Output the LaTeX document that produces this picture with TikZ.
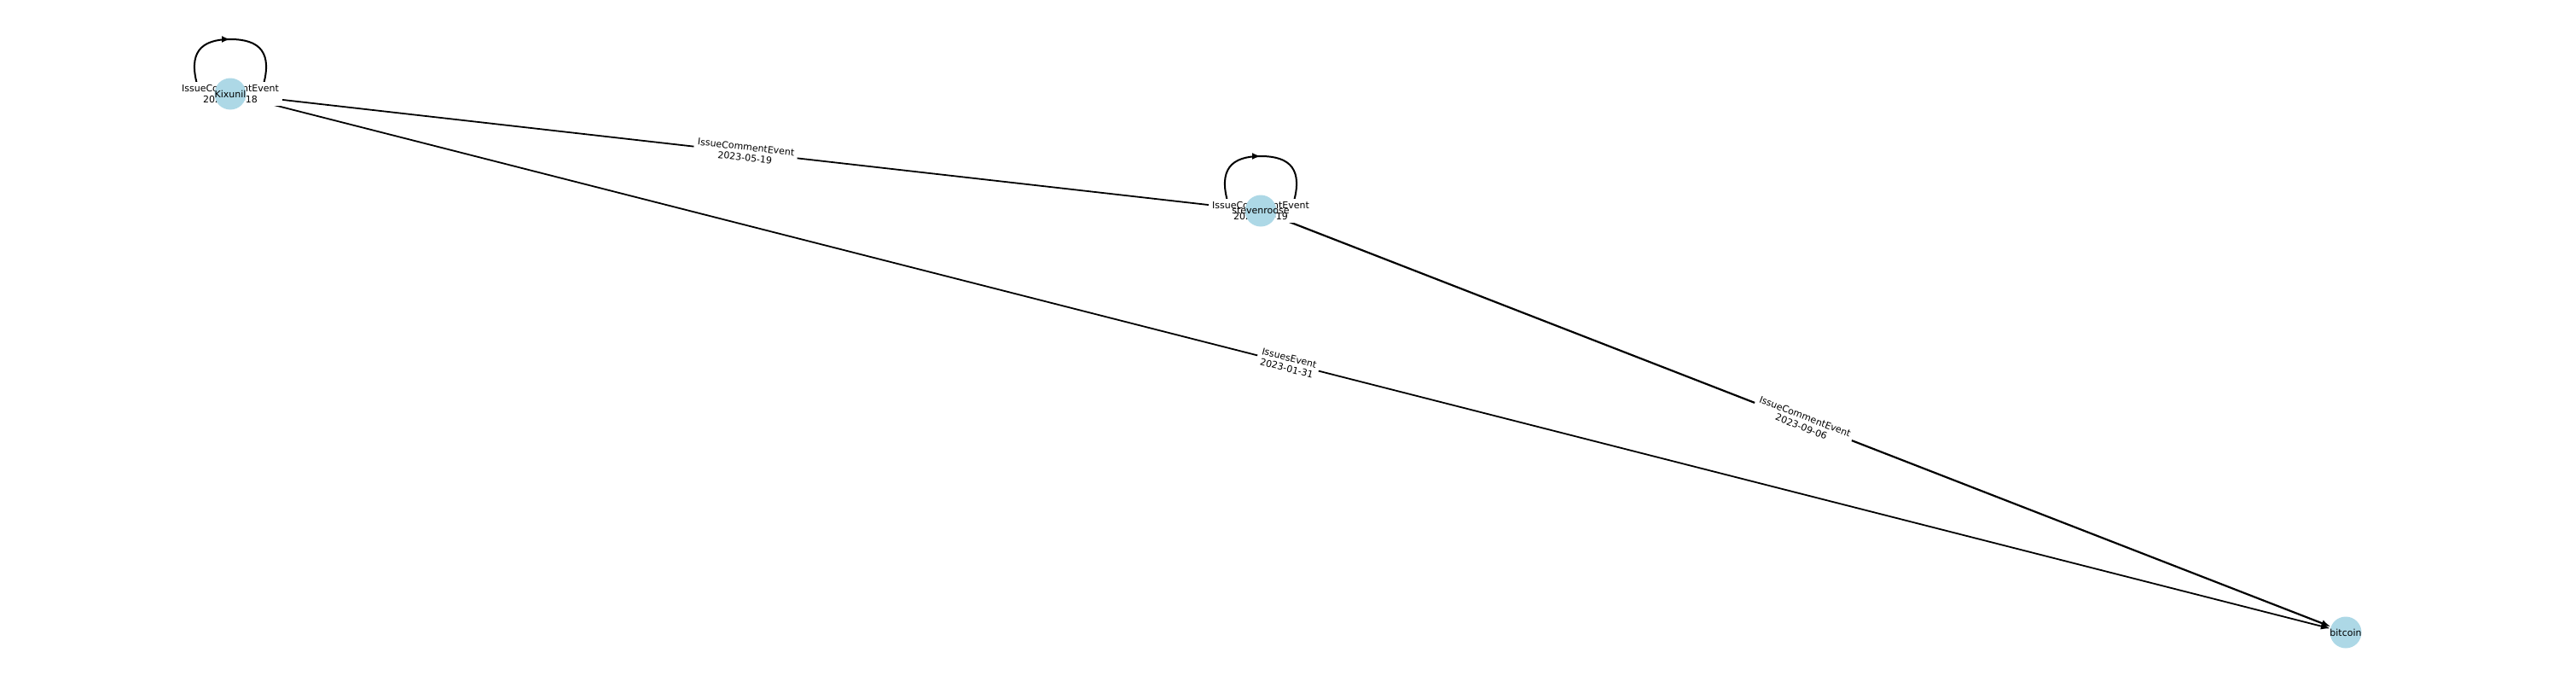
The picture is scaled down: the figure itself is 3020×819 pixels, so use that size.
\documentclass[tikz,border=0pt]{standalone}
\usepackage{fontspec}
\setmainfont{DejaVu Sans}
\usetikzlibrary{arrows.meta,calc,decorations.markings}
\definecolor{nodeblue}{RGB}{173,216,230}
\pgfdeclarelayer{edgelayer}
\pgfdeclarelayer{labellayer}
\pgfsetlayers{edgelayer,labellayer,main}
\begin{document}
\begin{tikzpicture}[x=1pt,y=-1pt,
  every node/.style={font=\fontsize{11}{12.5}\selectfont},
  every label/.style={font=\fontsize{11}{12.5}\selectfont, inner sep=0pt},
  vertex/.style={circle, fill=nodeblue, minimum size=37pt, inner sep=0pt},
  edge/.style={line width=1.8pt, -{Latex[length=11pt,width=8pt]}},
  loopedge/.style={line width=2pt, postaction=decorate,
    decoration={markings, mark=at position 0.5 with {\arrow{Latex[length=10pt,width=8pt]}}}},
  elabel/.style={fill=white, inner sep=4pt, align=center, sloped, midway},
  llabel/.style={fill=white, inner sep=4pt, align=center}
]
\useasboundingbox (0,0) rectangle (3020,819);
\node[vertex, label={center:Kixunil}] (kix) at (270,110) {};
\node[vertex, label={center:stevenroose}] (stv) at (1478,247) {};
\node[vertex, label={center:bitcoin}] (btc) at (2750,741) {};

\begin{pgfonlayer}{edgelayer}
\draw[edge] (kix) -- (stv);
\draw[edge] (kix) -- (btc);
\draw[edge, line width=2.2pt] (stv) -- (btc);
\draw[loopedge] ($(kix)+(-38,-8)$) .. controls ($(kix)+(-50,-48)$) and ($(kix)+(-35,-64)$) .. ($(kix)+(0,-64)$) .. controls ($(kix)+(35,-64)$) and ($(kix)+(50,-48)$) .. ($(kix)+(38,-8)$);
\draw[loopedge] ($(stv)+(-38,-8)$) .. controls ($(stv)+(-50,-48)$) and ($(stv)+(-35,-64)$) .. ($(stv)+(0,-64)$) .. controls ($(stv)+(35,-64)$) and ($(stv)+(50,-48)$) .. ($(stv)+(38,-8)$);
\end{pgfonlayer}

\begin{pgfonlayer}{labellayer}
\path (kix) -- (stv) node[elabel] (l1) {IssueCommentEvent\\2023-05-19};
\path (kix) -- (btc) node[elabel] (l2) {IssuesEvent\\2023-01-31};
\path (stv) -- (btc) node[elabel] (l3) {IssueCommentEvent\\2023-09-06};
\node[llabel] (l4) at (kix) {IssueCommentEvent\\2023-05-18};
\node[llabel] (l5) at (stv) {IssueCommentEvent\\2023-05-19};
\end{pgfonlayer}
\end{tikzpicture}
\end{document}
